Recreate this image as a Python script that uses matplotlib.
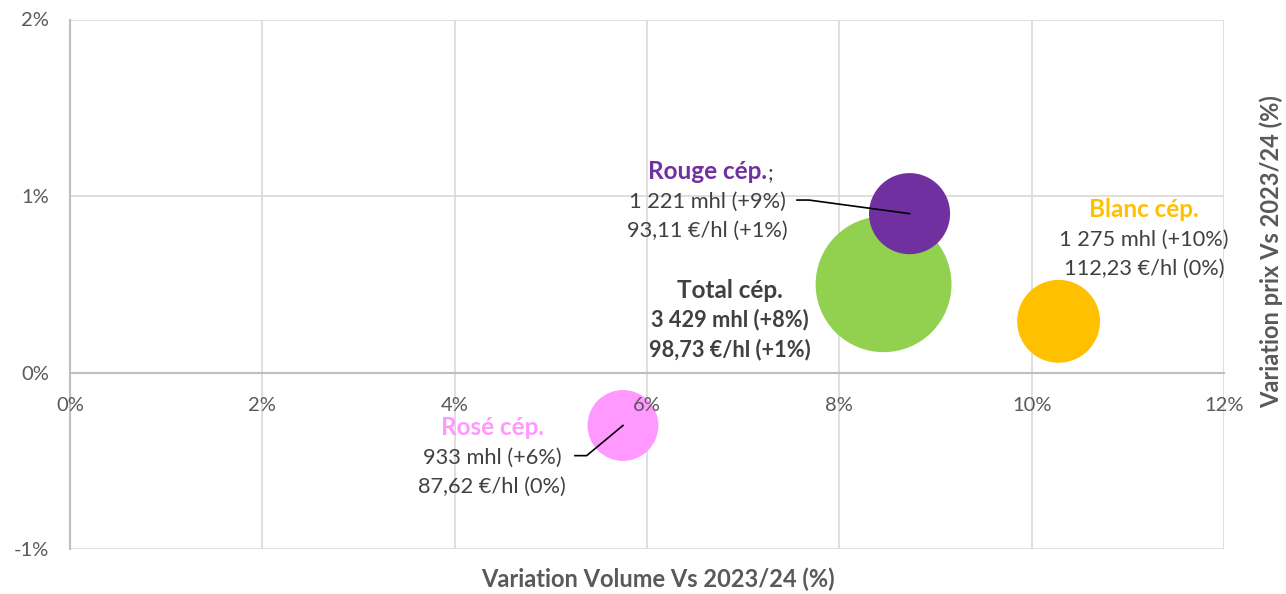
import matplotlib
matplotlib.use("Agg")
import matplotlib.pyplot as plt
import numpy as np

plt.rcParams['font.family'] = ['Lato', 'DejaVu Sans']

# data
names = ["Total cép.", "Rouge cép.", "Blanc cép.", "Rosé cép."]
vol_var = [8.46, 8.73, 10.28, 5.75]      # % variation volume
prix_var = [0.50, 0.90, 0.29, -0.30]     # % variation prix
volumes = [3429, 1221, 1275, 933]        # mhl (bubble size)
line2 = ["3 429 mhl (+8%)", "1 221 mhl (+9%)", "1 275 mhl (+10%)", "933 mhl (+6%)"]
line3 = ["98,73 €/hl (+1%)", "93,11 €/hl (+1%)", "112,23 €/hl (0%)", "87,62 €/hl (0%)"]
colors = ["#92D050", "#7030A0", "#FFC000", "#FF99FF"]
xticks = [0, 2, 4, 6, 8, 10, 12]
yticks = [-1, 0, 1, 2]

# label anchors (x centre, y of first line) in data units
lab_pos = [(6.86, 0.467), (6.63, 1.136), (11.17, 0.921), (4.39, -0.314)]
title_col = ["#404040", "#7030A0", "#FFC000", "#FF99FF"]

DPI = 100
fig = plt.figure(figsize=(12.86, 5.94), dpi=DPI)
ax = fig.add_axes([70/1286, 1-549/594, 1154/1286, 529.5/594])

# bubble area proportional to volume
sizes = [(2*1.16*np.sqrt(v)*72/DPI)**2 for v in volumes]
for i in range(len(names)):
    ax.scatter(vol_var[i], prix_var[i], s=sizes[i], color=colors[i],
               edgecolors='none', zorder=3+i)

ax.set_xlim(0, 12)
ax.set_ylim(-1, 2)
ax.set_xticks(xticks)
ax.set_yticks(yticks)
ax.set_xticklabels([])
ax.set_yticklabels([f"{t}%" for t in yticks])
ax.grid(True, color="#D9D9D9", linewidth=1.2, zorder=0)
ax.set_axisbelow(True)
for s in ['top', 'right']:
    ax.spines[s].set_visible(False)
ax.spines['bottom'].set_position(('data', 0))
ax.spines['bottom'].set_color("#BFBFBF")
ax.spines['left'].set_color("#BFBFBF")
ax.spines['bottom'].set_linewidth(1.5)
ax.spines['left'].set_linewidth(1.5)
ax.tick_params(axis='both', length=0, labelsize=14.5, labelcolor="#595959")
ax.tick_params(axis='y', pad=15)

# x tick labels drawn on top of the bubbles (as in the original)
for t in xticks:
    ax.annotate(f"{t}%", (t, 0), xytext=(0, -33), textcoords='offset pixels',
                ha='center', va='center', fontsize=14.5, color="#595959",
                zorder=20, annotation_clip=False)

# data labels
for i in range(len(names)):
    x, y = lab_pos[i]
    bold = (i == 0)
    t = ax.annotate(names[i], (x, y), ha='center', va='center', fontsize=17.5,
                    fontweight='bold', color=title_col[i], zorder=10)
    if names[i].startswith("Rouge"):
        ax.annotate(";", xy=(1, 0), xycoords=t, va='bottom', ha='left',
                    fontsize=15.5, color="#404040")
    for k, txt in enumerate([line2[i], line3[i]]):
        ax.annotate(txt, (x, y), xytext=(0, -29.5*(k+1)), textcoords='offset pixels',
                    ha='center', va='center', fontsize=15.7,
                    fontweight='bold' if bold else 'normal', color="#404040", zorder=10)

# leader lines
ax.plot([7.56, 7.684, vol_var[1]], [0.977, 0.977, prix_var[1]], color='black', lw=1.2, zorder=9)
ax.plot([5.251, 5.373, vol_var[3]], [-0.471, -0.471, prix_var[3]], color='black', lw=1.2, zorder=9)

fig.text(658/1286, 1-579/594, "Variation Volume Vs 2023/24 (%)", ha='center', va='center',
         fontsize=17, fontweight='bold', color="#595959")
fig.text(1271/1286, 1-252/594, "Variation prix Vs 2023/24 (%)", ha='center', va='center',
         rotation=90, fontsize=17, fontweight='bold', color="#595959")

fig.savefig("out.png", dpi=DPI)
